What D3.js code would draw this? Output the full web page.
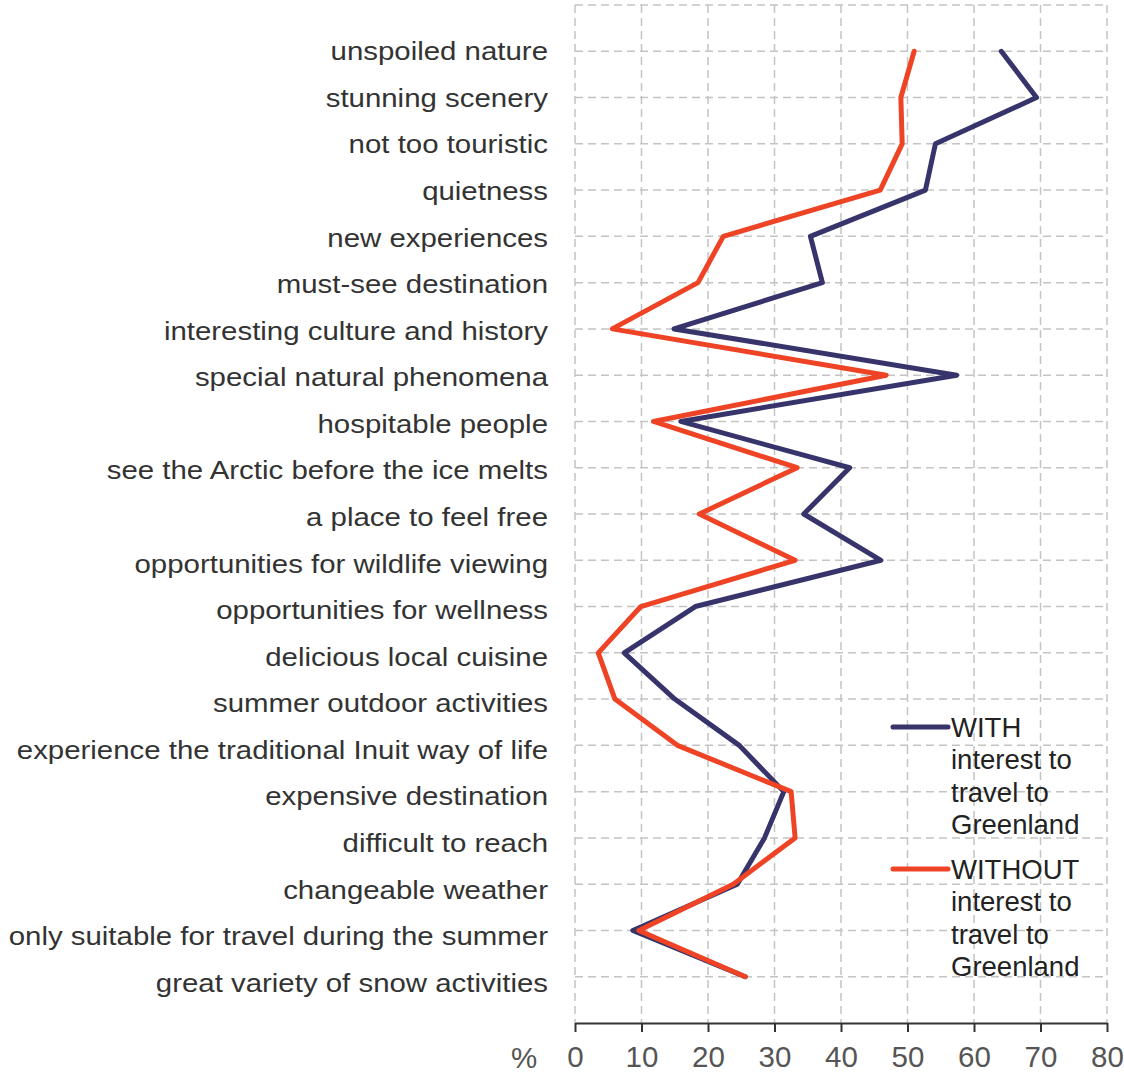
<!DOCTYPE html>
<html>
<head>
<meta charset="utf-8">
<script src="https://cdn.jsdelivr.net/npm/d3@7"></script>
<style>
  body { margin: 0; background: #fff; }
  svg { display: block; font-family: "Liberation Sans", Arial, sans-serif; }
</style>
</head>
<body>
<div id="chart"></div>
<script>
const categories = ["unspoiled nature", "stunning scenery", "not too touristic", "quietness",
  "new experiences", "must-see destination", "interesting culture and history",
  "special natural phenomena", "hospitable people", "see the Arctic before the ice melts",
  "a place to feel free", "opportunities for wildlife viewing", "opportunities for wellness",
  "delicious local cuisine", "summer outdoor activities",
  "experience the traditional Inuit way of life", "expensive destination",
  "difficult to reach", "changeable weather", "only suitable for travel during the summer",
  "great variety of snow activities"];
const withInterest = [64.1, 69.4, 54.2, 52.7, 35.4, 37.2, 14.9, 57.4, 15.9, 41.3, 34.4,
  46.0, 18.1, 7.4, 15.0, 24.7, 31.4, 28.5, 24.4, 8.7, 25.6];
const withoutInterest = [51.0, 49.0, 49.2, 45.9, 22.3, 18.5, 5.6, 46.8, 11.8, 33.4, 18.7,
  33.1, 9.9, 3.5, 6.0, 15.4, 32.5, 33.1, 23.8, 9.6, 25.6];
const xTicks = [0, 10, 20, 30, 40, 50, 60, 70, 80];
const seriesNames = [["WITH", "interest to", "travel to", "Greenland"],
                     ["WITHOUT", "interest to", "travel to", "Greenland"]];
const colors = ["#36346b", "#ee4425"];

const W = 1124, H = 1075;
const plot = {left: 575, right: 1107, top: 5, bottom: 1023};

const svg = d3.select("#chart").append("svg")
    .attr("width", W)
    .attr("height", H);

const x = d3.scaleLinear().domain([0, 80]).range([plot.left, plot.right]);
const y = d3.scalePoint().domain(categories).range([plot.top, plot.bottom]).padding(1);

// grid
const grid = svg.append("g")
    .attr("stroke", "#c4c4c4")
    .attr("stroke-width", 1.5)
    .attr("stroke-dasharray", "8,5");

grid.selectAll("line.v")
    .data(xTicks)
    .join("line")
    .attr("class", "v")
    .attr("x1", d => x(d)).attr("x2", d => x(d))
    .attr("y1", plot.top).attr("y2", plot.bottom);

grid.selectAll("line.h")
    .data(categories)
    .join("line")
    .attr("class", "h")
    .attr("x1", plot.left).attr("x2", plot.right)
    .attr("y1", d => y(d)).attr("y2", d => y(d));

grid.append("line")
    .attr("x1", plot.left).attr("x2", plot.right)
    .attr("y1", plot.top).attr("y2", plot.top);

// x axis
const xAxis = svg.append("g")
    .attr("transform", `translate(0, ${plot.bottom})`)
    .call(d3.axisBottom(x).tickValues(xTicks).tickSize(9).tickSizeOuter(0).tickPadding(14));
xAxis.select(".domain").attr("stroke", "#333").attr("stroke-width", 2);
xAxis.selectAll(".tick line").attr("stroke", "#333").attr("stroke-width", 2);
xAxis.selectAll(".tick text")
    .attr("fill", "#555")
    .style("font-size", "29.5px");

svg.append("text")
    .attr("x", 524)
    .attr("y", 1068)
    .attr("text-anchor", "middle")
    .attr("fill", "#555")
    .style("font-size", "29.5px")
    .text("%");

// category labels (drift slightly lower toward the bottom, as in the original)
svg.append("g")
    .selectAll("text")
    .data(categories)
    .join("text")
    .attr("transform", (d, i) => `translate(548, ${y(d) + 9 + i * 0.3}) scale(1.11, 1)`)
    .attr("text-anchor", "end")
    .attr("fill", "#333")
    .style("font-size", "26.5px")
    .text(d => d);

// lines
const line = d3.line()
    .x(d => x(d[1]))
    .y(d => y(d[0]));

[withInterest, withoutInterest].forEach(function (vals, i) {
    svg.append("path")
        .datum(categories.map((c, j) => [c, vals[j]]))
        .attr("d", line)
        .attr("fill", "none")
        .attr("stroke", colors[i])
        .attr("stroke-width", 5)
        .attr("stroke-linejoin", "round")
        .attr("stroke-linecap", "round");
});

// legend
const legend = svg.append("g");
seriesNames.forEach(function (lines, i) {
    const g = legend.append("g").attr("transform", `translate(893, ${727 + i * 142})`);
    g.append("line")
        .attr("x1", 0).attr("x2", 55)
        .attr("y1", 0).attr("y2", 0)
        .attr("stroke", colors[i])
        .attr("stroke-width", 5)
        .attr("stroke-linecap", "round");
    g.selectAll("text")
        .data(lines)
        .join("text")
        .attr("x", 58)
        .attr("y", (d, k) => k * 32.4 + 10)
        .attr("fill", "#222")
        .style("font-size", "27.5px")
        .text(d => d);
});
</script>
</body>
</html>
